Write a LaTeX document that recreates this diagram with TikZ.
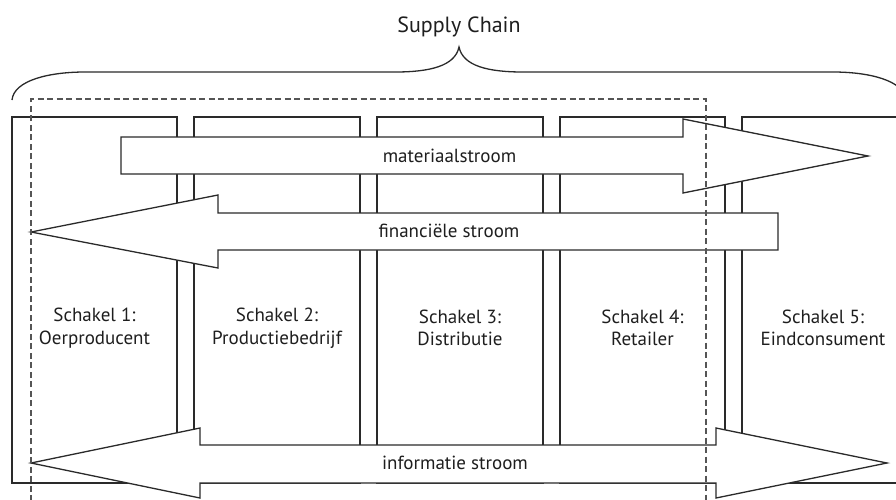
\documentclass[tikz,border=0pt]{standalone}
\usepackage{fontspec}
\setmainfont{PT Sans}
\definecolor{linec}{HTML}{2A2A2A}
\definecolor{dashc}{HTML}{555555}
\definecolor{textc}{HTML}{1E1E1E}
\tikzset{
  lbl/.style={text=textc, font=\fontsize{19}{22.5}\selectfont, align=center, inner sep=0pt},
  title/.style={text=textc, font=\fontsize{22}{26}\selectfont, inner sep=0pt},
  schakel/.style={draw=linec, line width=1.3pt},
  flow/.style={draw=linec, fill=white, line width=1.3pt, line join=miter},
  chainline/.style={draw=dashc, line width=1.5pt, dash pattern=on 6pt off 3.5pt},
  bracec/.style={draw=linec, line width=1.3pt}
}
\begin{document}
\begin{tikzpicture}[x=1pt,y=-1pt]
\useasboundingbox (0,0) rectangle (896,499);
\clip (0,0) rectangle (896,499);
% brace
\draw[bracec] (12,100) .. controls (14,80) and (50,72) .. (85,72) -- (395,72)
  .. controls (430,72) and (455,66) .. (459,47)
  .. controls (463,66) and (488,72) .. (523,72) -- (833,72)
  .. controls (868,72) and (904,80) .. (906,100);
\node[title] (sc) at (459,27) {Supply Chain};
% boxes
\draw[schakel] (12,117) rectangle (177,483);
\draw[schakel] (194,117) rectangle (360,483);
\draw[schakel] (377,117) rectangle (543,483);
\draw[schakel] (560,117) rectangle (725,483);
\draw[schakel] (742,117) rectangle (910,483);
\node[lbl] (s1) at (94.5,328) {Schakel 1:\\Oerproducent};
\node[lbl] (s2) at (277,328) {Schakel 2:\\Productiebedrijf};
\node[lbl] (s3) at (460,328) {Schakel 3:\\Distributie};
\node[lbl] (s4) at (642.5,328) {Schakel 4:\\Retailer};
\node[lbl] (s5) at (823,328) {Schakel 5:\\Eindconsument};
% material flow
\draw[flow] (121,137) -- (683,137) -- (683,119) -- (868,156) -- (683,193) -- (683,174) -- (121,174) -- cycle;
\node[lbl] (mat) at (449.5,156) {materiaalstroom};
% financial flow
\draw[flow] (778,213) -- (218,213) -- (218,195) -- (31,232) -- (218,268) -- (218,250) -- (778,250) -- cycle;
\node[lbl] (fin) at (449,231) {financiële stroom};
% information flow
\draw[flow] (200,445) -- (716,445) -- (716,428) -- (887,463) -- (716,498) -- (716,483) -- (200,483) -- (200,498) -- (31,463) -- (200,428) -- cycle;
\node[lbl] (inf) at (455,463) {informatie stroom};
% supply chain boundary
\draw[chainline] (31,520) -- (31,99) -- (706,99) -- (706,520);
\end{tikzpicture}
\end{document}
